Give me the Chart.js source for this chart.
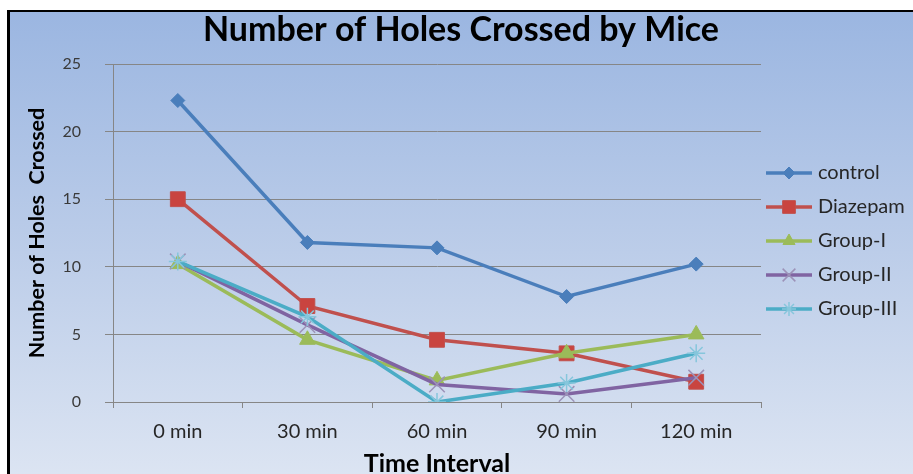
<!DOCTYPE html>
<html>
<head>
<meta charset="utf-8">
<script src="https://cdn.jsdelivr.net/npm/chart.js@4/dist/chart.umd.min.js"></script>
<style>
  html, body { margin: 0; padding: 0; background: #ffffff; }
  body { width: 913px; height: 474px; position: relative; overflow: hidden; }
  #frame {
    position: absolute; left: 7px; top: 10px; width: 920px; height: 480px;
    border-left: 3px solid #000; border-top: 2px solid #000;
    background: linear-gradient(to bottom, #9bb6e1 0%, #bccde9 50%, #dee6f3 100%);
  }
  #chart { position: absolute; left: 0; top: 0; }
</style>
</head>
<body>
<div id="frame"></div>
<canvas id="chart" width="913" height="474"></canvas>
<script>
// Time points on the x axis
const categories = ['0 min', '30 min', '60 min', '90 min', '120 min'];

// Holes crossed per group at each time point
const control  = [22.3, 11.8, 11.4, 7.8, 10.2];
const diazepam = [15.0, 7.1, 4.6, 3.6, 1.5];
const groupI   = [10.2, 4.6, 1.6, 3.6, 5.0];
const groupII  = [10.4, 5.7, 1.3, 0.6, 1.8];
const groupIII = [10.4, 6.3, 0.0, 1.4, 3.6];

const seriesNames = ['control', 'Diazepam', 'Group-I', 'Group-II', 'Group-III'];
const yTicks = [0, 5, 10, 15, 20, 25];

const FONT = 'Lato, "Open Sans", sans-serif';

// Per-series look: line colour, marker shape, marker colours and sizes
const styles = [
  { color: '#4a7ebb', shape: 'rectRot',  fill: '#4a7ebb', edge: '#4a7ebb', r: 7,  lr: 6,  bw: 1 },
  { color: '#c0504d', shape: 'rect',     fill: '#c9443f', edge: '#c0504d', r: 10.5, lr: 9,  bw: 1 },
  { color: '#9bbb59', shape: 'triangle', fill: '#9bbb59', edge: '#9bbb59', r: 9,  lr: 7,  bw: 1 },
  { color: '#8064a2', shape: 'crossRot', fill: 'rgba(0,0,0,0)', edge: '#9c92b8', r: 11, lr: 9, bw: 1.5 },
  { color: '#4bacc6', shape: 'star',     fill: 'rgba(0,0,0,0)', edge: '#86c6dc', r: 9,  lr: 7,  bw: 1.5 }
];
const values = [control, diazepam, groupI, groupII, groupIII];

// Legend symbol: a short line with the series marker in its middle
function legendSymbol(st) {
  const c = document.createElement('canvas');
  c.width = 51; c.height = 24;
  const g = c.getContext('2d');
  g.strokeStyle = st.color; g.lineWidth = 3.5;
  g.beginPath(); g.moveTo(0, 12); g.lineTo(46, 12); g.stroke();
  g.fillStyle = st.fill; g.strokeStyle = st.edge; g.lineWidth = st.bw;
  Chart.helpers.drawPoint(g, { pointStyle: st.shape, rotation: 0, radius: st.lr, borderWidth: st.bw }, 23, 12);
  return c;
}
const symbols = styles.map(legendSymbol);

const datasets = seriesNames.map((name, i) => ({
  label: name,
  data: values[i],
  borderColor: styles[i].color,
  backgroundColor: styles[i].color,
  borderWidth: 3.5,
  tension: 0,
  pointStyle: styles[i].shape,
  pointRadius: styles[i].r,
  pointHoverRadius: styles[i].r,
  pointBackgroundColor: styles[i].fill,
  pointBorderColor: styles[i].edge,
  pointBorderWidth: styles[i].bw,
  order: seriesNames.length - i
}));

new Chart(document.getElementById('chart'), {
  type: 'line',
  data: { labels: categories, datasets },
  options: {
    responsive: false,
    animation: false,
    events: [],
    layout: { padding: { left: 9, right: 0, top: 8, bottom: 0 } },
    plugins: {
      tooltip: { enabled: false },
      title: {
        display: true,
        text: 'Number of Holes Crossed by Mice',
        color: '#000000',
        font: { family: FONT, size: 34, weight: 'bold' },
        padding: { top: 2, bottom: 13.2 }
      },
      legend: {
        position: 'right',
        align: 'center',
        maxWidth: 152,
        labels: {
          usePointStyle: true,
          pointStyleWidth: 33,
          padding: 14,
          color: '#262626',
          font: { family: FONT, size: 20 },
          generateLabels: (chart) => chart.data.datasets.map((ds, i) => ({
            text: ds.label,
            pointStyle: symbols[i],
            fillStyle: ds.borderColor,
            strokeStyle: ds.borderColor,
            lineWidth: 0,
            fontColor: '#262626',
            datasetIndex: i
          }))
        }
      }
    },
    scales: {
      x: {
        type: 'category',
        offset: true,
        afterFit: (s) => { s.height = 72; },
        grid: { drawOnChartArea: false, drawTicks: true, tickLength: 6, offset: true, color: '#868686' },
        border: { display: true, color: '#868686', width: 1 },
        ticks: { color: '#262626', padding: 12, font: { family: FONT, size: 20 }, maxRotation: 0 },
        title: {
          display: true,
          text: 'Time Interval',
          color: '#000000',
          font: { family: FONT, size: 25, weight: 'bold', lineHeight: 0.8 },
          padding: { top: 0, bottom: 0 }
        }
      },
      y: {
        min: 0,
        max: 25,
        afterFit: (s) => { s.width = 104; },
        afterBuildTicks: (s) => { s.ticks = yTicks.map(v => ({ value: v })); },
        grid: { color: '#868686', lineWidth: 1, drawTicks: true, tickLength: 8 },
        border: { display: true, color: '#868686', width: 1 },
        ticks: { color: '#3a3a3a', padding: 24, font: { family: FONT, size: 16 } },
        title: {
          display: true,
          text: 'Number of Holes  Crossed',
          color: '#000000',
          font: { family: FONT, size: 21.5, weight: 'bold', lineHeight: 1.2 },
          padding: { top: 15, bottom: 0 }
        }
      }
    }
  }
});
</script>
</body>
</html>
